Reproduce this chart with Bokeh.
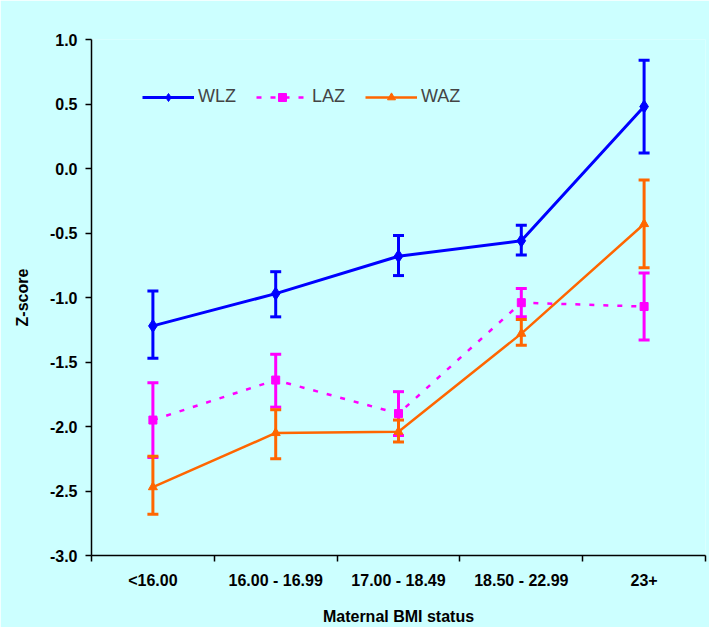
from bokeh.plotting import figure
from bokeh.models import (ColumnDataSource, Whisker, TeeHead, FixedTicker, Legend,
                          LegendItem, NumeralTickFormatter, Range1d)
from bokeh.embed import file_html
from bokeh.resources import INLINE

categories = ["<16.00", "16.00 - 16.99", "17.00 - 18.49", "18.50 - 22.99", "23+"]
wlz = [-1.22, -0.97, -0.68, -0.56, 0.48]
wlz_hi = [-0.95, -0.80, -0.52, -0.44, 0.84]
wlz_lo = [-1.47, -1.15, -0.83, -0.67, 0.12]
laz = [-1.95, -1.64, -1.90, -1.04, -1.07]
laz_hi = [-1.66, -1.44, -1.73, -0.93, -0.81]
laz_lo = [-2.24, -1.85, -2.07, -1.15, -1.33]
waz = [-2.47, -2.05, -2.04, -1.28, -0.43]
waz_hi = [-2.23, -1.87, -1.95, -1.17, -0.09]
waz_lo = [-2.68, -2.25, -2.12, -1.37, -0.77]
y_ticks = [-3.0, -2.5, -2.0, -1.5, -1.0, -0.5, 0.0, 0.5, 1.0]

BG = "#CCFFFF"
FONT = "Liberation Sans"
xs = [i + 0.5 for i in range(len(categories))]

p = figure(width=709, height=627, output_backend="svg", toolbar_location=None,
           x_range=Range1d(0, len(categories)), y_range=Range1d(-3.0, 1.0),
           min_border_left=91, min_border_right=4, min_border_top=39, min_border_bottom=66)
p.background_fill_color = BG
p.border_fill_color = BG
p.outline_line_color = None
p.xgrid.visible = False
p.ygrid.visible = False

series = [
    ("WLZ", wlz, wlz_hi, wlz_lo, "#0000FF", "diamond", 13, None, 3),
    ("LAZ", laz, laz_hi, laz_lo, "#FF00FF", "square", 8, "5 9", 2.5),
    ("WAZ", waz, waz_hi, waz_lo, "#FF6600", "triangle", 9, None, 2.5),
]
items = []
for name, ys, hi, lo, col, mk, sz, dash, lw in series:
    src = ColumnDataSource(dict(x=xs, y=ys, hi=hi, lo=lo))
    w = Whisker(source=src, base="x", upper="hi", lower="lo", dimension="height",
                line_color=col, line_width=3,
                upper_head=TeeHead(size=11, line_color=col, line_width=3),
                lower_head=TeeHead(size=11, line_color=col, line_width=3))
    p.add_layout(w)
    kw = dict(line_color=col, line_width=lw)
    if dash:
        kw["line_dash"] = dash
    ln = p.line("x", "y", source=src, **kw)
    sc = p.scatter("x", "y", source=src, marker=mk, size=sz, fill_color=col, line_color=col)
    items.append(LegendItem(label=name, renderers=[ln, sc]))

legend = Legend(items=items, orientation="horizontal", location=(51, 448),
                background_fill_alpha=0, border_line_color=None,
                glyph_width=52, glyph_height=20, label_height=20,
                label_text_font=FONT, label_text_font_size="18px",
                label_standoff=4, spacing=20, padding=0, margin=0)
p.add_layout(legend, "center")

p.yaxis.ticker = FixedTicker(ticks=y_ticks)
p.yaxis.formatter = NumeralTickFormatter(format="0.0")
p.yaxis.axis_label = "Z-score"
p.xaxis.axis_label = "Maternal BMI status"
p.xaxis.ticker = FixedTicker(ticks=xs, minor_ticks=list(range(len(categories) + 1)))
p.xaxis.major_label_overrides = {x: c for x, c in zip(xs, categories)}
p.xaxis.major_tick_out = 0
p.xaxis.major_tick_in = 0
p.xaxis.minor_tick_out = 6
p.xaxis.minor_tick_in = 0
p.xaxis.minor_tick_line_color = "black"
p.xaxis.minor_tick_line_width = 1.5
p.xaxis.major_label_standoff = 10
p.xaxis.axis_label_standoff = 16
p.yaxis.minor_tick_line_color = None
p.yaxis.major_tick_out = 6
p.yaxis.major_tick_in = 0
p.yaxis.major_label_standoff = 8
p.yaxis.axis_label_standoff = 16
for ax in (p.xaxis, p.yaxis):
    ax.axis_line_color = "black"
    ax.axis_line_width = 1.5
    ax.major_tick_line_color = "black"
    ax.major_tick_line_width = 1.5
    ax.major_label_text_font = FONT
    ax.major_label_text_font_style = "bold"
    ax.major_label_text_font_size = "16px"
    ax.major_label_text_color = "black"
    ax.axis_label_text_font = FONT
    ax.axis_label_text_font_style = "bold"
    ax.axis_label_text_font_size = "16px"
    ax.axis_label_text_color = "black"

open("out.html", "w").write(file_html(p, INLINE))
